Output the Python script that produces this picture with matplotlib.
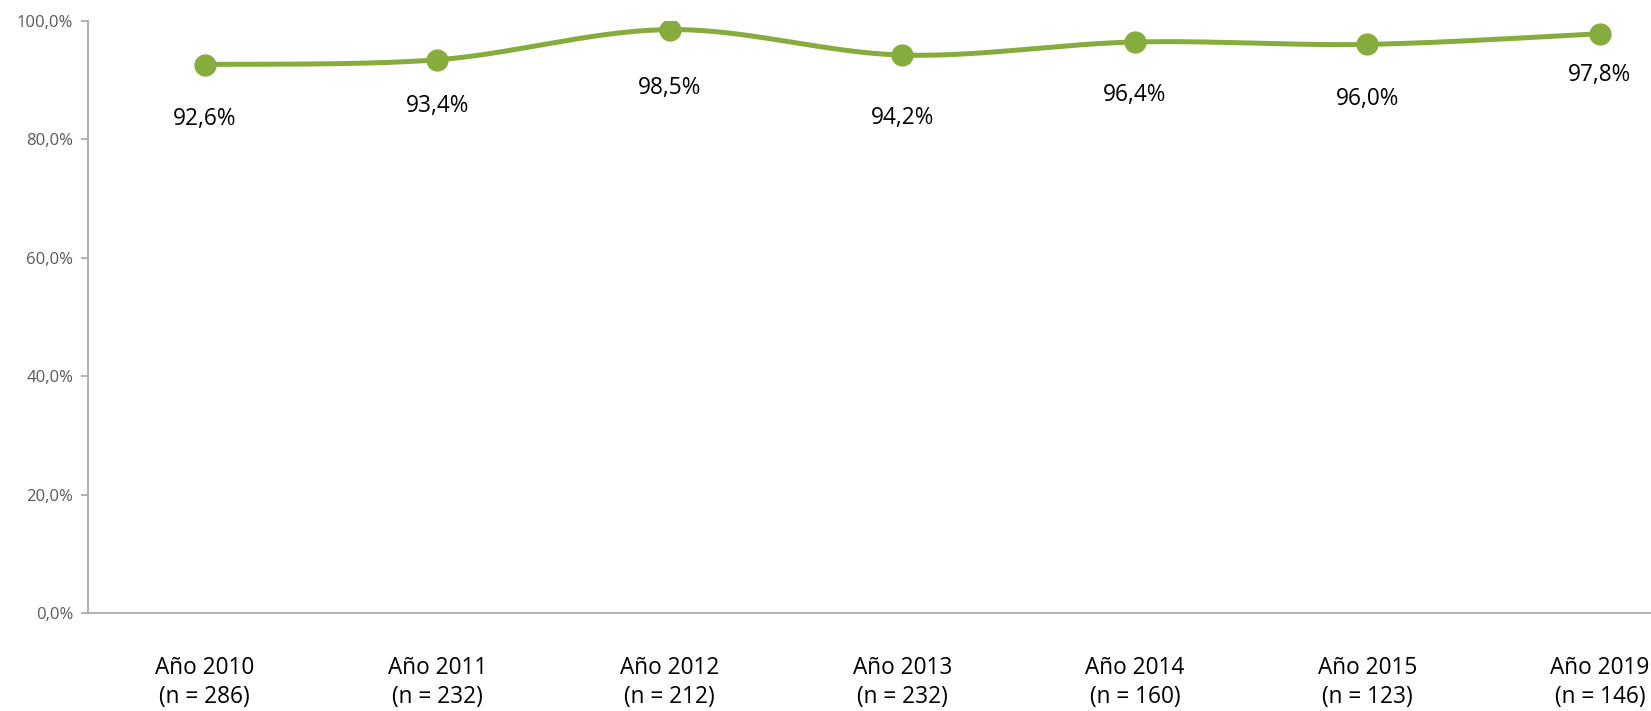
import numpy as np
import matplotlib
matplotlib.use("Agg")
import matplotlib.pyplot as plt
from matplotlib.ticker import FuncFormatter

plt.rcParams['font.family'] = ['Open Sans', 'DejaVu Sans']

# datos
categorias = ['Año 2010\n(n = 286)', 'Año 2011\n(n = 232)', 'Año 2012\n(n = 212)',
              'Año 2013\n(n = 232)', 'Año 2014\n(n = 160)', 'Año 2015\n(n = 123)',
              'Año 2019\n(n = 146)']
valores = [92.6, 93.4, 98.5, 94.2, 96.4, 96.0, 97.8]

# desplazamiento vertical de cada etiqueta (pt, hacia abajo)
desplaz = [39, 33, 42, 45, 38, 39, 30]

verde = '#86AC3E'
gris = '#A6A6A6'


def suavizar(x, y, n=40):
    """ curva suavizada tipo Excel (Bezier con tangentes Catmull-Rom) """
    p = np.column_stack([x, y]).astype(float)
    p = np.vstack([p[0], p, p[-1]])
    xs, ys = [], []
    t = np.linspace(0, 1, n)
    for i in range(1, len(p) - 2):
        p0, p1, p2, p3 = p[i - 1], p[i], p[i + 1], p[i + 2]
        c1 = p1 + (p2 - p0) / 6
        c2 = p2 - (p3 - p1) / 6
        b = ((1 - t) ** 3)[:, None] * p1 + (3 * (1 - t) ** 2 * t)[:, None] * c1 \
            + (3 * (1 - t) * t ** 2)[:, None] * c2 + (t ** 3)[:, None] * p2
        xs.extend(b[:, 0])
        ys.extend(b[:, 1])
    return np.array(xs), np.array(ys)


fig = plt.figure(figsize=(16.51, 7.11), dpi=100)
ax = fig.add_axes([0.0536, 0.1378, 0.9464, 0.8331])

x = np.arange(len(valores))
sx, sy = suavizar(x, valores)
ax.plot(sx, sy, color=verde, lw=3.6, solid_capstyle='round', zorder=2)
ax.plot(x, valores, 'o', color=verde, ms=15, zorder=3)

for xi, v, d in zip(x, valores, desplaz):
    ax.annotate(f"{v:.1f}%".replace('.', ','), (xi, v), xytext=(0, -d),
                textcoords='offset points', ha='center', va='center',
                fontsize=16.3, color='#000000')

ax.set_ylim(0, 100)
ax.set_xlim(-0.5, 6.22)
ax.set_yticks(np.arange(0, 101, 20))
ax.yaxis.set_major_formatter(FuncFormatter(lambda v, p: f"{v:.1f}%".replace('.', ',')))
ax.set_xticks(x)
ax.set_xticklabels(categorias, fontsize=16.3, color='#000000', linespacing=1.3)

for s in ['top', 'right']:
    ax.spines[s].set_visible(False)
for s in ['left', 'bottom']:
    ax.spines[s].set_color(gris)
    ax.spines[s].set_linewidth(1.2)

ax.tick_params(axis='y', colors=gris, length=5, width=1.2, labelsize=12,
               labelcolor='#595959', pad=6)
ax.tick_params(axis='x', length=0, pad=31)

fig.savefig('out.png', dpi=100)
